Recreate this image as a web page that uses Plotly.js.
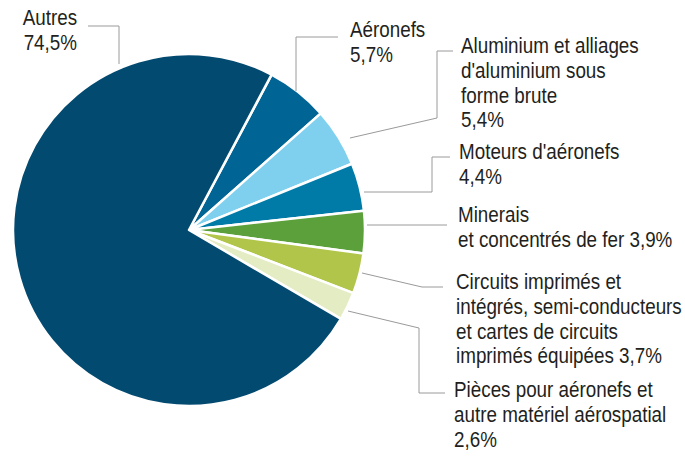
<!DOCTYPE html>
<html>
<head>
<meta charset="utf-8">
<script src="https://cdn.plot.ly/plotly-3.0.1.min.js"></script>
<style>
html,body{margin:0;padding:0;background:#fff}
#chart{width:685px;height:457px}
</style>
</head>
<body>
<div id="chart"></div>
<script>
// Data
const categories = [
  "Aéronefs",
  "Aluminium et alliages d'aluminium sous forme brute",
  "Moteurs d'aéronefs",
  "Minerais et concentrés de fer",
  "Circuits imprimés et intégrés, semi-conducteurs et cartes de circuits imprimés équipées",
  "Pièces pour aéronefs et autre matériel aérospatial",
  "Autres"
];
const shares = [5.7, 5.4, 4.4, 3.9, 3.7, 2.6, 74.5];
const colors = ["#006494", "#7fd0ee", "#007ba7", "#5ba03a", "#b2c54b", "#e3ecc2", "#034a70"];
// Displayed label lines ({p} = share)
const labelLines = [
  ["Aéronefs", "{p}"],
  ["Aluminium et alliages", "d'aluminium sous", "forme brute", "{p}"],
  ["Moteurs d'aéronefs", "{p}"],
  ["Minerais", "et concentrés de fer {p}"],
  ["Circuits imprimés et", "intégrés, semi-conducteurs", "et cartes de circuits", "imprimés équipées {p}"],
  ["Pièces pour aéronefs et", "autre matériel aérospatial", "{p}"],
  ["Autres", "{p}"]
];

const W = 685, H = 457;
const FONT = "'Liberation Sans', Arial, sans-serif";
const SX = 0.875; // horizontal condensing of label text
const fmt = v => v.toFixed(1).replace('.', ',') + '%';

// label layout: [x, first line middle y (px), anchor]
const labelPos = [
  [348, 30, 'left'],
  [459, 46, 'left'],
  [457, 152, 'left'],
  [456, 215, 'left'],
  [454, 282, 'left'],
  [452, 390, 'left'],
  [79, 18, 'right']
];
const LINE = 24.8;

const annotations = [];
labelLines.forEach((lines, i) => {
  lines.forEach((ln, j) => {
    annotations.push({
      xref: 'paper', yref: 'paper',
      x: labelPos[i][0] / W,
      y: 1 - (labelPos[i][1] + j * LINE) / H,
      xanchor: labelPos[i][2], yanchor: 'middle',
      text: ln.replace('{p}', fmt(shares[i])),
      showarrow: false,
      font: {family: FONT, size: 21.5, color: '#231f20'}
    });
  });
});

// leader lines (pixel paths)
const leaders = [
  [[296, 91], [296, 37], [338, 37]],
  [[350, 138], [437, 118], [437, 51], [453, 51]],
  [[364, 192], [432, 192], [432, 157], [450, 157]],
  [[367, 225], [447, 225]],
  [[362, 273], [422, 287], [443, 287]],
  [[348, 311], [419, 328], [419, 393], [445, 393]],
  [[119, 64], [119, 26], [88, 26]]
];
const shapes = leaders.map(pts => ({
  type: 'path', xref: 'paper', yref: 'paper',
  path: pts.map((p, k) => (k ? 'L' : 'M') + (p[0] / W) + ',' + (1 - p[1] / H)).join(' '),
  line: {color: '#9a9a9a', width: 1}
}));

const trace = {
  type: 'pie',
  labels: categories,
  values: shares,
  sort: false,
  direction: 'clockwise',
  rotation: 28,
  textinfo: 'none',
  hoverinfo: 'label+percent',
  marker: {colors: colors, line: {color: '#ffffff', width: 2.5}},
  domain: {x: [13 / W, 365 / W], y: [51 / H, 403 / H]},
  showlegend: false
};

Plotly.newPlot('chart', [trace], {
  width: W, height: H,
  margin: {l: 0, r: 0, t: 0, b: 0},
  paper_bgcolor: '#ffffff',
  showlegend: false,
  annotations: annotations,
  shapes: shapes
}, {displayModeBar: false, staticPlot: true}).then(gd => {
  gd.querySelectorAll('g.annotation').forEach((g, k) => {
    const t = g.querySelector('text.annotation-text');
    if (!t) return;
    const idxAttr = g.getAttribute('data-index');
    const idx = idxAttr !== null ? +idxAttr : k;
    const bb = t.getBBox();
    const right = annotations[idx] && annotations[idx].xanchor === 'right';
    const ax = right ? bb.x + bb.width : bb.x;
    t.setAttribute('transform', 'translate(' + ax + ',0) scale(' + SX + ',1) translate(' + (-ax) + ',0)');
  });
});
</script>
</body>
</html>
